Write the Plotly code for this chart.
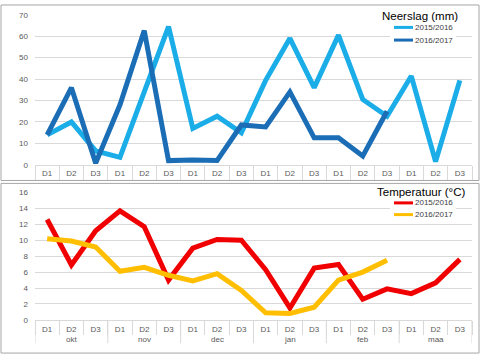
import plotly.graph_objects as go

W, H = 481, 360

months = ["okt", "nov", "dec", "jan", "feb", "maa"]
decades = ["D1", "D2", "D3"]
series_names = ["2015/2016", "2016/2017"]

neerslag_1516 = [14, 20, 6.5, 3.5, 34, 64.5, 17, 22.7, 15, 39.4, 59, 36, 60.5, 30.5, 22.7, 41.4, 1.5, 39.4]
neerslag_1617 = [14, 36, 0.8, 28, 62.6, 2, 2.3, 2, 18.6, 17.7, 34, 12.6, 12.6, 4.1, 25]
temp_1516 = [12.6, 6.9, 11.2, 13.7, 11.7, 5.0, 9.0, 10.1, 10.0, 6.3, 1.5, 6.5, 6.95, 2.6, 3.9, 3.3, 4.65, 7.6]
temp_1617 = [10.2, 9.9, 9.15, 6.1, 6.6, 5.6, 4.9, 5.8, 3.7, 0.9, 0.8, 1.6, 5.0, 6.0, 7.5]

outer = [m for m in months for _ in decades]
inner = [d for _ in months for d in decades]
keys = [f"{m} {d}" for m, d in zip(outer, inner)]

FONT = "Liberation Sans"
GRID = "#D9D9D9"
TXT = "#595959"
LW = 5

C_NEER = ["#1BADE8", "#1B6EB6"]
C_TEMP = ["#F00000", "#FFBF00"]

fig = go.Figure()

fig.add_trace(go.Scatter(x=keys, y=neerslag_1516, mode="lines", name=series_names[0],
                         line=dict(color=C_NEER[0], width=LW), xaxis="x", yaxis="y"))
fig.add_trace(go.Scatter(x=keys[:len(neerslag_1617)], y=neerslag_1617, mode="lines", name=series_names[1],
                         line=dict(color=C_NEER[1], width=LW), xaxis="x", yaxis="y"))

fig.add_trace(go.Scatter(x=keys, y=temp_1516, mode="lines", name=series_names[0],
                         line=dict(color=C_TEMP[0], width=LW), xaxis="x2", yaxis="y2"))
fig.add_trace(go.Scatter(x=keys[:len(temp_1617)], y=temp_1617, mode="lines",
                         name=series_names[1], line=dict(color=C_TEMP[1], width=LW),
                         xaxis="x2", yaxis="y2"))

xd = [35 / W, 472 / W]


def py(p):
    return 1 - p / H


def xaxis_cfg(anchor):
    return dict(domain=xd, anchor=anchor, type="category", categoryorder="array", categoryarray=keys,
                tickmode="array", tickvals=keys, ticktext=inner, tickson="boundaries",
                ticklabelstandoff=1, range=[-0.5, len(keys) - 0.5],
                showgrid=False, zeroline=False, showline=True, linecolor=GRID, linewidth=1,
                tickfont=dict(family=FONT, size=8, color=TXT), ticks="outside", ticklen=14,
                tickcolor=GRID, tickwidth=1, fixedrange=True)


def yaxis_cfg(anchor, top, bottom, rng, dtick):
    return dict(domain=[py(bottom), py(top)], anchor=anchor, range=rng, dtick=dtick,
                showgrid=True, gridcolor=GRID, gridwidth=1, zeroline=False, showline=False,
                tickfont=dict(family=FONT, size=8, color=TXT), ticks="", ticklabelstandoff=6,
                fixedrange=True)


shapes = [
    dict(type="rect", xref="paper", yref="paper", x0=1 / W, x1=479 / W, y0=py(181), y1=py(1),
         line=dict(color="#A6A6A6", width=1)),
    dict(type="rect", xref="paper", yref="paper", x0=1 / W, x1=479 / W, y0=py(358), y1=py(184),
         line=dict(color="#A6A6A6", width=1)),
]
annotations = []

# month group labels and dividers on the lower category axis
nd = len(decades)
for i, m in enumerate(months):
    annotations.append(dict(text=m, xref="x2", yref="paper", x=keys[i * nd + nd // 2], y=py(344),
                            xanchor="center", yanchor="middle", showarrow=False,
                            font=dict(family=FONT, size=8, color=TXT)))
for i in range(len(months) + 1):
    shapes.append(dict(type="line", xref="x2", yref="paper", x0=i * nd - 0.5, x1=i * nd - 0.5,
                       y0=py(324), y1=py(348), line=dict(color=GRID, width=1)))


def add_legend(title, title_right, title_y, entry_ys, colors):
    # white backing box behind the legend (hides gridlines like the original)
    shapes.append(dict(type="rect", xref="paper", yref="paper", x0=390 / W, x1=456 / W,
                       y0=py(entry_ys[-1] + 5), y1=py(entry_ys[0] - 5),
                       fillcolor="white", line=dict(width=0), layer="above"))
    annotations.append(dict(text=title, xref="paper", yref="paper", x=title_right / W, y=py(title_y),
                            xanchor="right", yanchor="middle", showarrow=False, bgcolor="white",
                            borderpad=1,
                            font=dict(family=FONT, size=11.5, color="#000")))
    for name, ey, c in zip(series_names, entry_ys, colors):
        shapes.append(dict(type="line", xref="paper", yref="paper", x0=394 / W, x1=413 / W,
                           y0=py(ey), y1=py(ey), line=dict(color=c, width=3), layer="above"))
        annotations.append(dict(text=name, xref="paper", yref="paper", x=413 / W, y=py(ey),
                                xanchor="left", yanchor="middle", showarrow=False,
                                font=dict(family=FONT, size=8, color="#404040")))


add_legend("Neerslag (mm)", 460, 12, [24, 37], C_NEER)
add_legend("Temperatuur (°C)", 467, 193, [204, 216], C_TEMP)

fig.update_layout(
    width=W, height=H, margin=dict(l=0, r=0, t=0, b=0),
    paper_bgcolor="white", plot_bgcolor="white",
    showlegend=False,
    xaxis=xaxis_cfg("y"),
    yaxis=yaxis_cfg("x", 11, 165, [0, 70], 10),
    xaxis2=xaxis_cfg("y2"),
    yaxis2=yaxis_cfg("x2", 193.3, 324, [0, 16], 2),
    shapes=shapes,
    annotations=annotations,
)

fig.write_html("out.html", config={"displayModeBar": False},
               post_script="document.body.style.margin='0';document.body.style.overflow='hidden';")
